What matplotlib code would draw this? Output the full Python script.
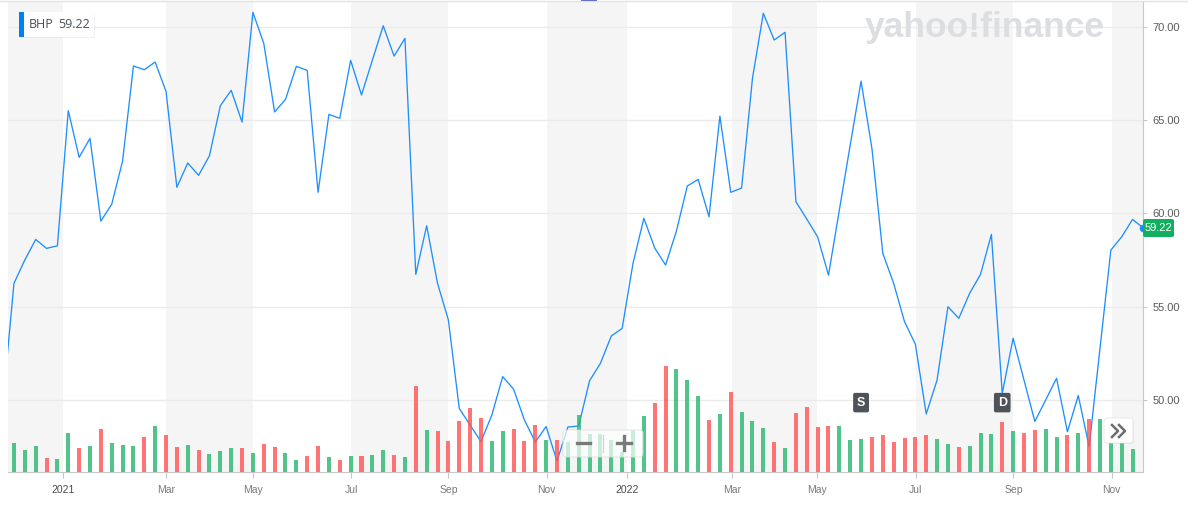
import numpy as np
import matplotlib.pyplot as plt
from matplotlib.patches import FancyBboxPatch, Rectangle
from matplotlib.lines import Line2D
from matplotlib.transforms import IdentityTransform, blended_transform_factory

# BHP weekly closes (first value is the week just left of the visible window)
closes = [50.00,
          56.26, 57.51, 58.61, 58.13, 58.27, 65.50, 63.00, 64.02, 59.59, 60.49,
          62.80, 67.89, 67.69, 68.10, 66.53, 61.40, 62.70, 62.04, 63.09, 65.76,
          66.59, 64.89, 70.76, 69.10, 65.43, 66.10, 67.87, 67.66, 61.13, 65.30,
          65.09, 68.19, 66.34, 68.20, 70.04, 68.42, 69.37, 56.74, 59.34, 56.26,
          54.30, 49.57, 48.68, 47.79, 49.21, 51.27, 50.60, 48.95, 47.77, 48.60,
          46.75, 48.57, 48.63, 51.05, 51.98, 53.44, 53.85, 57.33, 59.74, 58.15,
          57.24, 59.06, 61.47, 61.82, 59.82, 65.21, 61.13, 61.36, 67.23, 70.71,
          69.28, 69.69, 60.63, 59.70, 58.75, 56.70, 60.18, 63.66, 67.08, 63.48,
          57.87, 56.26, 54.21, 53.00, 49.27, 51.09, 55.01, 54.39, 55.73, 56.74,
          58.88, 50.37, 53.32, 51.09, 48.87, 50.02, 51.18, 48.32, 50.26, 47.52,
          52.78, 58.04, 58.75, 59.68]

# weekly volume, millions of shares
volumes = [9.0,
           10.4, 7.9, 9.3, 5.1, 4.8, 13.9, 8.4, 9.3, 15.1, 10.4,
           9.7, 9.3, 12.5, 16.3, 13.2, 9.0, 9.7, 7.9, 6.5, 7.6,
           8.6, 8.6, 6.9, 10.0, 8.8, 6.9, 4.4, 5.8, 9.3, 5.5,
           4.4, 5.8, 5.8, 6.2, 7.9, 6.2, 5.5, 30.3, 14.9, 14.6,
           11.1, 18.1, 22.6, 19.1, 11.1, 14.6, 15.3, 11.1, 16.7, 11.4,
           11.4, 10.7, 20.2, 13.5, 13.5, 11.3, 7.2, 14.8, 19.8, 24.4,
           37.3, 36.3, 32.3, 26.8, 18.4, 20.5, 28.2, 21.1, 18.0, 15.5,
           10.7, 8.6, 20.8, 23.0, 16.0, 16.3, 16.3, 11.2, 11.8, 12.5,
           13.2, 10.7, 12.1, 12.5, 13.2, 11.8, 10.0, 9.0, 9.3, 13.9,
           13.5, 17.7, 14.6, 13.9, 14.9, 15.3, 12.5, 13.2, 13.9, 18.8,
           18.8, 15.8, 14.0, 8.3]

last_price = 59.22
ticker = "BHP"

month_labels = ["2021", "Mar", "May", "Jul", "Sep", "Nov",
                "2022", "Mar", "May", "Jul", "Sep", "Nov"]
month_tick_at = [4.54, 14.02, 22.04, 31.06, 40.0, 49.05,
                 56.47, 66.09, 73.97, 83.03, 92.02, 101.08]
price_ticks = [50, 55, 60, 65, 70]
events = [("S", 78), ("D", 91)]

W, H = 1188, 509
fig = plt.figure(figsize=(W / 100, H / 100), dpi=100)
plt.rcParams['font.family'] = ['Liberation Sans', 'DejaVu Sans']

weeks = np.arange(len(closes)) - 1
closes_arr = np.array(closes)
x_min, x_max = -0.55, 103.96

ax = fig.add_axes([8 / W, (H - 472.3) / H, (1143 - 8) / W, (472.3 - 1.5) / H])
ax2 = ax.twinx()   # volume axis (hidden); created first so tick_right sticks
ax.set_xlim(x_min, x_max)
ax.set_ylim(46.15, 71.34)

# alternating month bands
edges = [x_min] + month_tick_at + [x_max]
for i in range(len(edges) - 1):
    if i % 2 == 0:
        ax.axvspan(edges[i], edges[i + 1], color='#f5f5f5', lw=0, zorder=0)

ax.set_yticks(price_ticks)
ax.set_yticklabels([f"{v:.2f}" for v in price_ticks])
ax.yaxis.tick_right()
ax.yaxis.set_label_position('right')
ax.grid(axis='y', color='#ebebeb', lw=1, zorder=1)
ax.tick_params(axis='y', length=3, color='#c8c8c8', pad=4, labelsize=8,
               labelcolor='#5b5b5b')

ax.set_xticks(month_tick_at)
ax.set_xticklabels(month_labels)
ax.tick_params(axis='x', length=4, color='#c8c8c8', pad=5, labelsize=7.5,
               labelcolor='#7a7a7a')
for lbl in ax.get_xticklabels():
    if lbl.get_text().isdigit():
        lbl.set_color('#4a4a4a')

for side in ['left', 'top']:
    ax.spines[side].set_visible(False)
for side in ['right', 'bottom']:
    ax.spines[side].set_color('#c8c8c8')

# price line, including the live quote at the right edge
ax.plot(list(weeks) + [weeks[-1] + 1], list(closes) + [last_price],
        color='#1e8fff', lw=0.95, zorder=3)
ax.plot([weeks[-1] + 1], [last_price], 'o', color='#1e8fff', ms=4.5,
        clip_on=False, zorder=4)

# volume bars
ax2.set_ylim(0, 164.8)
ax2.axis('off')
up = np.r_[True, closes_arr[1:] >= closes_arr[:-1]]
bar_colors = np.where(up, '#2bb873', '#ff5555')
ax2.bar(weeks, volumes, width=0.37, color=bar_colors, alpha=0.82, zorder=2)

# event markers (split / dividend)
trans = blended_transform_factory(ax2.transData, ax2.transAxes)
for letter, wk in events:
    ax2.text(wk, 0.148, letter, transform=trans, ha='center', va='center',
             color='white', fontsize=9, fontweight='bold', zorder=6,
             bbox=dict(boxstyle='round,pad=0.3,rounding_size=0.15',
                       fc='#4e5359', ec='none'))

ID = IdentityTransform()


def pbox(x0, y0, x1, y1, **kw):
    p = FancyBboxPatch((x0, H - y1), x1 - x0, y1 - y0, transform=ID, **kw)
    fig.add_artist(p)
    return p


# top border and small indicator
fig.add_artist(Line2D([0, W], [H - 1.3, H - 1.3], transform=ID, color='#e3e3e3', lw=1))
fig.add_artist(Rectangle((581, H - 2), 16, 2, transform=ID, color='#4356c8', lw=0))

# ticker badge
pbox(19, 13, 95, 38, boxstyle='round,pad=0,rounding_size=3', fc='#000000',
     ec='none', alpha=0.05)
pbox(19, 12, 94, 37, boxstyle='round,pad=0,rounding_size=3', fc='white', ec='none')
fig.add_artist(Rectangle((19, H - 37), 5, 25, transform=ID, color='#0081f2', lw=0))
fig.text(29, H - 25, ticker, transform=ID, fontsize=9, color='#464e56',
         va='center', ha='left', family='Open Sans')
fig.text(58, H - 25, f"{last_price:.2f}", transform=ID, fontsize=9,
         color='#464e56', va='center', ha='left', family='Open Sans')

# watermark
fig.text(865, H - 37, "yahoo!finance", transform=ID, fontsize=25.5,
         fontweight='bold', color='#dcdee2', ha='left', va='baseline')

# last price tag
pbox(1143, 219, 1174, 237, boxstyle='round,pad=0,rounding_size=2',
     fc='#10b060', ec='none')
fig.text(1158.5, H - 228, f"{last_price:.2f}", transform=ID, fontsize=8,
         color='white', ha='center', va='center')

# zoom control
pbox(563, 430, 643, 457, boxstyle='round,pad=0,rounding_size=3',
     fc='white', ec='#dddddd', lw=0.8, alpha=0.7)
fig.add_artist(Line2D([603, 603], [H - 435, H - 452], transform=ID,
                      color='#d0d0d0', lw=0.8))
fig.add_artist(Line2D([577, 590], [H - 443, H - 443], transform=ID,
                      color='#7a7a7a', lw=2.4))
fig.add_artist(Line2D([617, 631], [H - 443, H - 443], transform=ID,
                      color='#7a7a7a', lw=2.4))
fig.add_artist(Line2D([624, 624], [H - 436, H - 450], transform=ID,
                      color='#7a7a7a', lw=2.4))

# scroll-forward button
pbox(1105, 419, 1134, 444, boxstyle='round,pad=0,rounding_size=3',
     fc='#000000', ec='none', alpha=0.06)
pbox(1104, 418, 1133, 443, boxstyle='round,pad=0,rounding_size=3',
     fc='white', ec='#e6e6e6', lw=0.6)
for cx in (1112, 1119):
    fig.add_artist(Line2D([cx, cx + 6, cx], [H - 425, H - 431, H - 437],
                          transform=ID, color='#6e6e6e', lw=1.8))

fig.savefig('out.png', dpi=100)
